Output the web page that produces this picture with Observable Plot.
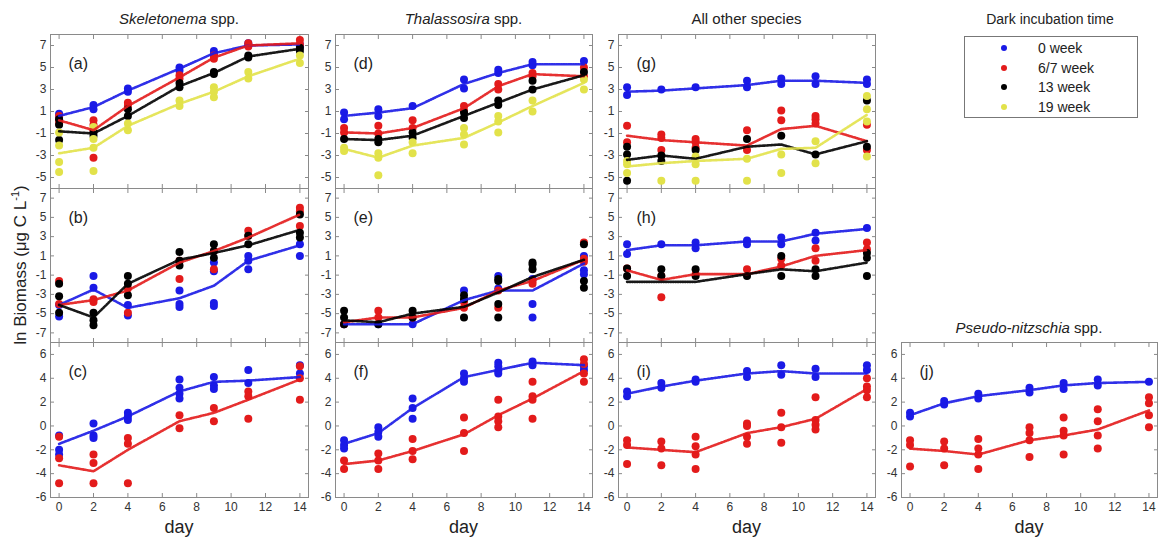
<!DOCTYPE html>
<html>
<head>
<meta charset="utf-8">
<script src="https://cdn.jsdelivr.net/npm/d3@7"></script>
<script src="https://cdn.jsdelivr.net/npm/@observablehq/plot@0.6"></script>
<style>
  html, body { margin: 0; padding: 0; background: #fff; }
  #wrap { position: relative; width: 1162px; height: 543px; font-family: "Liberation Sans", Arial, sans-serif; color: #222; overflow: hidden; }
  .abs { position: absolute; }
  .title { font-size: 15px; white-space: nowrap; transform: translate(-50%, -50%); }
  .day { font-size: 18px; transform: translate(-50%, -50%); }
  .ylab { font-size: 17px; white-space: nowrap; transform: translate(-50%, -50%) rotate(-90deg); }
  .legbox { border: 1px solid #777; box-sizing: border-box; }
  .legtxt { font-size: 14px; white-space: nowrap; transform: translateY(-50%); }
  .legdot { width: 6px; height: 6px; border-radius: 50%; transform: translate(-50%, -50%); }
</style>
</head>
<body>
<div id="wrap"></div>
<script>
// ---------------- data ----------------
const days = [0, 2, 4, 7, 9, 11, 14];
const seriesNames = ["0 week", "6/7 week", "13 week", "19 week"];
const seriesColors = ["#1a1ae6", "#e31b1b", "#000000", "#e2e24a"];
const columnTitles = ["Skeletonema", "Thalassosira", "All other species", "Pseudo-nitzschia"];
const panelLabels = ["(a)", "(b)", "(c)", "(d)", "(e)", "(f)", "(g)", "(h)", "(i)", "(j)"];
const xTicks = [0, 2, 4, 6, 8, 10, 12, 14];
const yTicksTop = [-5, -3, -1, 1, 3, 5, 7];
const yTicksMid = [-7, -5, -3, -1, 1, 3, 5, 7];
const yTicksBot = [-6, -4, -2, 0, 2, 4, 6];

// (a) Skeletonema, total
const a_w0_mean = [0.6, 1.4, 2.9, 4.9, 6.3, 7.0, 7.1];
const a_w0_pts = [[0.8, 0.5], [1.6, 1.2], [3.1, 2.8], [5.0, 4.7], [6.5, 6.2], [7.2, 7.0], [7.1, 6.9]];
const a_w6_mean = [0.2, -0.7, 1.5, 4.1, 5.9, 7.0, 7.2];
const a_w6_pts = [[0.6, 0.2, -0.1], [0.2, -0.2, -0.7, -3.2], [1.8, 1.5], [4.3, 4.0], [6.1, 5.8], [7.2, 6.9], [7.5, 7.1]];
const a_w13_mean = [-0.8, -1.0, 0.6, 3.3, 4.5, 6.0, 6.7];
const a_w13_pts = [[0.3, -0.2, -1.6], [-0.9, -1.2], [1.2, 0.6], [3.6, 3.2], [4.6, 4.4], [6.1, 5.9], [6.8, 6.5]];
const a_w19_mean = [-2.8, -2.3, -0.3, 1.7, 2.8, 4.2, 5.8];
const a_w19_pts = [[-0.9, -2.1, -3.6, -4.5], [-0.4, -1.5, -2.3, -4.4], [-0.1, -0.7], [2.0, 1.5], [3.2, 2.8, 2.3], [4.6, 4.0], [6.1, 5.4]];

// (b)
const b_w0_mean = [-4.1, -2.5, -4.4, -3.4, -2.1, 0.5, 2.1];
const b_w0_pts = [[-4.1, -5.3], [-1.1, -2.3], [-4.1, -5.2], [-2.6, -4.0, -4.3], [0.3, -0.6, -3.9, -4.2], [1.0, 0.5, -0.4], [2.2, 1.0]];
const b_w6_mean = [-4.1, -3.6, -2.6, 0.3, 1.5, 2.9, 5.3];
const b_w6_pts = [[-1.6, -4.0], [-3.5, -3.8], [-2.4, -4.9], [0.5, -1.4], [1.5, -0.4], [3.6, 3.1], [6.0, 5.6, 4.1]];
const b_w13_mean = [-4.1, -5.4, -1.9, 0.6, 1.3, 2.1, 3.7];
const b_w13_pts = [[-1.9, -3.2, -4.9], [-4.9, -5.7, -6.2], [-1.1, -1.9, -3.1], [1.4, 0.5, 0.0], [2.2, 1.5, 0.8], [3.1, 2.2], [5.3, 3.4, 2.9]];

// (c)
const c_w0_mean = [-1.5, -0.4, 0.8, 2.9, 3.7, 3.8, 4.1];
const c_w0_pts = [[-0.8, -2.0, -2.4], [0.2, -0.8, -1.0], [1.1, 0.8, 0.5], [3.9, 3.2, 2.7, 2.3], [4.1, 3.4, 3.1], [4.7, 3.6], [5.1, 4.4]];
const c_w6_mean = [-3.3, -3.8, -2.0, 0.4, 1.1, 2.2, 3.9];
const c_w6_pts = [[-0.9, -2.7, -4.8], [-2.4, -3.1, -4.8], [-1.0, -1.5, -4.8], [0.9, -0.2], [1.5, 0.4], [2.9, 2.5, 0.6], [5.0, 4.0, 2.2]];

// (d) Thalassosira
const d_w0_mean = [0.6, 0.9, 1.3, 3.5, 4.5, 5.3, 5.3];
const d_w0_pts = [[0.9, 0.3], [1.2, 0.6], [1.5], [3.9, 3.1], [4.8, 4.5], [5.5, 5.2], [5.6]];
const d_w6_mean = [-0.9, -1.0, -0.5, 1.3, 3.3, 4.4, 4.2];
const d_w6_pts = [[-0.5, -0.9], [-0.3, -1.0], [0.2, -0.5], [1.5, 1.1], [3.5, 3.0], [4.5, 4.2], [5.0, 4.2]];
const d_w13_mean = [-1.5, -1.6, -1.2, 0.6, 1.8, 3.0, 4.3];
const d_w13_pts = [[-1.5], [-1.5, -1.8], [-0.9, -1.4], [0.9, 0.4], [2.0, 1.6], [3.8, 3.0], [4.6]];
const d_w19_mean = [-2.4, -3.2, -2.1, -1.4, 0.0, 1.5, 3.6];
const d_w19_pts = [[-2.3, -2.6], [-2.8, -3.2, -4.8], [-1.8, -2.8], [-0.5, -1.1, -2.0], [0.6, 0.1, -0.9], [2.0, 1.0], [3.9, 3.0]];

// (e)
const e_w0_mean = [-6.1, -6.1, -6.1, -3.6, -2.6, -2.6, 0.2];
const e_w0_pts = [[-6.1], [-6.1], [-6.1], [-2.6, -3.6], [-1.1, -2.4], [-1.4, -4.0, -5.4], [1.0, -0.5, -0.9]];
const e_w6_mean = [-5.9, -5.4, -5.4, -4.4, -2.6, -1.6, 0.6];
const e_w6_pts = [[-6.1], [-4.7, -5.4], [-5.4], [-3.8, -4.4], [-2.6, -4.4], [-1.6, -1.9], [2.4, 0.7, 0.4]];
const e_w13_mean = [-5.7, -5.9, -5.0, -4.3, -2.8, -1.2, 0.6];
const e_w13_pts = [[-4.7, -5.4, -6.1], [-6.1], [-4.7, -5.4], [-3.1, -3.5, -5.4], [-1.4, -1.6, -4.0, -5.4], [0.3, 0.1, -0.4], [2.2, -1.6, -2.3]];

// (f)
const f_w0_mean = [-1.5, -0.6, 1.5, 4.1, 4.7, 5.3, 5.1];
const f_w0_pts = [[-1.2, -1.6, -1.9], [-0.1, -0.5, -0.9], [2.3, 1.5, 0.6], [4.4, 4.0, 3.7], [5.3, 5.0, 4.6, 4.4], [5.4, 5.1], [5.0, 4.7]];
const f_w6_mean = [-3.2, -2.9, -2.1, -0.7, 0.9, 2.3, 4.6];
const f_w6_pts = [[-2.9, -3.6], [-2.3, -2.9, -3.6], [-1.1, -2.1, -2.8], [0.7, -0.6, -2.1], [2.2, 0.8, 0.4, -0.1], [3.7, 2.5, 2.2, 0.6], [5.6, 5.2, 4.4, 3.7]];

// (g) All other species
const g_w0_mean = [2.8, 2.9, 3.1, 3.4, 3.8, 3.8, 3.6];
const g_w0_pts = [[3.2, 2.5], [3.0], [3.2], [3.8, 3.2], [4.0, 3.5], [4.2, 3.5], [3.9, 3.5]];
const g_w6_mean = [-1.2, -1.6, -1.8, -2.1, -0.6, -0.3, -1.7];
const g_w6_pts = [[-0.3, -1.8], [-1.1, -1.4, -2.5], [-1.5, -1.8, -2.3], [-0.7, -2.5], [1.1, 0.2], [0.6, 0.3, -0.1], [-0.2, -2.5]];
const g_w13_mean = [-3.4, -3.0, -3.3, -2.2, -2.0, -2.9, -1.7];
const g_w13_pts = [[-2.2, -2.9, -5.3], [-3.0, -3.5], [-2.5], [-1.5], [-1.2], [-2.9], [2.0, -2.2]];
const g_w19_mean = [-4.0, -3.7, -3.5, -3.3, -2.4, -2.3, 0.7];
const g_w19_pts = [[-3.5, -3.8, -4.6], [-5.3], [-3.1, -3.8, -5.3], [-3.3, -5.3], [-2.9, -4.6], [-1.7, -3.7], [2.4, 1.2, 0.1, -3.1]];

// (h)
const h_w0_mean = [1.6, 2.1, 2.1, 2.5, 2.5, 3.3, 3.8];
const h_w0_pts = [[2.2, 1.2], [2.2], [2.4, 1.8], [2.6, 2.2], [2.9, 2.2], [3.4, 2.6], [3.9]];
const h_w6_mean = [-0.5, -1.5, -0.9, -0.9, -0.1, 1.0, 1.6];
const h_w6_pts = [[-0.3], [-1.1, -3.3], [-0.9], [-0.4], [0.7, 0.0], [1.8, 0.5], [2.4, 1.7]];
const h_w13_mean = [-1.7, -1.7, -1.7, -0.9, -0.4, -0.6, 0.3];
const h_w13_pts = [[-0.3, -1.1], [-0.4, -1.1], [-0.4, -1.1], [-1.1], [1.0, -1.1], [-0.4, -1.1], [1.3, 0.8, -1.1]];

// (i)
const i_w0_mean = [2.7, 3.3, 3.8, 4.4, 4.6, 4.4, 4.4];
const i_w0_pts = [[2.9, 2.5], [3.6, 3.2], [3.9, 3.7], [4.6, 4.1], [5.1, 4.3], [4.8, 4.1], [5.1, 4.7]];
const i_w6_mean = [-1.8, -2.0, -2.2, -0.6, -0.1, 0.6, 3.1];
const i_w6_pts = [[-1.2, -1.6, -3.2], [-1.3, -1.9, -3.3], [-0.9, -1.7, -2.4, -3.6], [0.2, 0.0, -0.9, -1.5], [1.1, -0.1, -1.4], [2.4, 0.5, 0.1, -0.3], [4.0, 3.3, 3.0, 2.4]];

// (j) Pseudo-nitzschia
const j_w0_mean = [0.9, 1.9, 2.5, 3.0, 3.4, 3.6, 3.7];
const j_w0_pts = [[1.1, 0.8], [2.1, 1.8], [2.7, 2.3], [3.2, 2.8], [3.6, 3.1], [3.9, 3.4], [3.7]];
const j_w6_mean = [-1.9, -2.1, -2.4, -1.2, -0.8, -0.3, 1.3];
const j_w6_pts = [[-1.2, -1.6, -3.4], [-1.3, -1.9, -3.3], [-1.1, -1.9, -2.4, -3.6], [-0.1, -0.6, -1.2, -2.6], [0.7, -0.4, -0.8, -2.4], [1.4, 0.4, -0.8, -1.9], [2.4, 1.9, 0.9, -0.1]];

// ---------------- layout ----------------
const colLeft = [50, 335, 618, 901];
const colWidth = [258, 257, 257, 256];
const rowTop = [34, 188, 342];
const rowHeight = [154, 154, 155];
const rowDomain = [[-6, 8], [-8, 8], [-6, 7]];
const rowTicks = [yTicksTop, yTicksMid, yTicksBot];

const panels = [
  {col: 0, row: 0, s: [[a_w0_mean, a_w0_pts], [a_w6_mean, a_w6_pts], [a_w13_mean, a_w13_pts], [a_w19_mean, a_w19_pts]]},
  {col: 0, row: 1, s: [[b_w0_mean, b_w0_pts], [b_w6_mean, b_w6_pts], [b_w13_mean, b_w13_pts]]},
  {col: 0, row: 2, s: [[c_w0_mean, c_w0_pts], [c_w6_mean, c_w6_pts]]},
  {col: 1, row: 0, s: [[d_w0_mean, d_w0_pts], [d_w6_mean, d_w6_pts], [d_w13_mean, d_w13_pts], [d_w19_mean, d_w19_pts]]},
  {col: 1, row: 1, s: [[e_w0_mean, e_w0_pts], [e_w6_mean, e_w6_pts], [e_w13_mean, e_w13_pts]]},
  {col: 1, row: 2, s: [[f_w0_mean, f_w0_pts], [f_w6_mean, f_w6_pts]]},
  {col: 2, row: 0, s: [[g_w0_mean, g_w0_pts], [g_w6_mean, g_w6_pts], [g_w13_mean, g_w13_pts], [g_w19_mean, g_w19_pts]]},
  {col: 2, row: 1, s: [[h_w0_mean, h_w0_pts], [h_w6_mean, h_w6_pts], [h_w13_mean, h_w13_pts]]},
  {col: 2, row: 2, s: [[i_w0_mean, i_w0_pts], [i_w6_mean, i_w6_pts]]},
  {col: 3, row: 2, s: [[j_w0_mean, j_w0_pts], [j_w6_mean, j_w6_pts]]}
];

const wrap = document.getElementById("wrap");
const ML = 30, MR = 6, MT = 6, MB = 24;

function addDiv(cls, x, y, html, extra) {
  const d = document.createElement("div");
  d.className = "abs " + cls;
  d.style.left = x + "px";
  d.style.top = y + "px";
  d.innerHTML = html;
  if (extra) Object.assign(d.style, extra);
  wrap.appendChild(d);
  return d;
}

panels.forEach((p, idx) => {
  const means = [], pts = [];
  p.s.forEach(([mean, ptsArr], k) => {
    days.forEach((day, i) => {
      means.push({day, v: mean[i], s: k});
      ptsArr[i].forEach(v => pts.push({day, v, s: k}));
    });
  });
  const showX = p.row === 2;
  const chart = Plot.plot({
    width: colWidth[p.col] + ML + MR,
    height: rowHeight[p.row] + MT + MB,
    marginLeft: ML, marginRight: MR, marginTop: MT, marginBottom: MB,
    x: {domain: [-0.5, 14.5]},
    y: {domain: rowDomain[p.row]},
    color: {type: "identity"},
    style: {fontFamily: "'Liberation Sans', Arial, sans-serif", fontSize: "12px", color: "#333", background: "transparent", overflow: "visible"},
    marks: [
      Plot.frame({stroke: "#8a8a8a"}),
      Plot.axisY(rowTicks[p.row], {anchor: "left", tickSize: -4, tickPadding: 8, stroke: "#8a8a8a", fill: "#333", tickFormat: d => String(d), label: null}),
      Plot.axisY(rowTicks[p.row], {anchor: "right", tickSize: -4, stroke: "#8a8a8a", tickFormat: () => "", label: null}),
      Plot.axisX(xTicks, {anchor: "bottom", tickSize: -4, tickPadding: 9, stroke: "#8a8a8a", fill: "#333", tickFormat: showX ? (d => String(d)) : (() => ""), label: null}),
      Plot.axisX(xTicks, {anchor: "top", tickSize: -4, stroke: "#8a8a8a", tickFormat: () => "", label: null}),
      Plot.dot(pts, {x: "day", y: "v", r: 4, fill: d => seriesColors[d.s], stroke: null}),
      Plot.line(means, {x: "day", y: "v", z: "s", stroke: d => seriesColors[d.s], strokeWidth: 2.6, strokeDasharray: "1.2 1.2", strokeOpacity: 0.9}),
      Plot.text([panelLabels[idx]], {frameAnchor: "top-left", dx: 18, dy: 23, text: d => d, fontSize: 16, fill: "#222", textAnchor: "start"})
    ]
  });
  chart.style.position = "absolute";
  chart.style.left = (colLeft[p.col] - ML) + "px";
  chart.style.top = (rowTop[p.row] - MT) + "px";
  wrap.appendChild(chart);
});

// column titles
addDiv("title", colLeft[0] + colWidth[0] / 2, 18, `<i>${columnTitles[0]}</i> spp.`);
addDiv("title", colLeft[1] + colWidth[1] / 2, 18, `<i>${columnTitles[1]}</i> spp.`);
addDiv("title", colLeft[2] + colWidth[2] / 2, 18, columnTitles[2]);
addDiv("title", colLeft[3] + colWidth[3] / 2, 327, `<i>${columnTitles[3]}</i> spp.`);

// day labels
[0, 1, 2, 3].forEach(c => addDiv("day", colLeft[c] + colWidth[c] / 2, 527, "day"));

// y label
addDiv("ylab", 20, 265, "ln Biomass (μg C L<sup style='font-size:11px'>-1</sup>)");

// legend
addDiv("title", 1050, 19, "Dark incubation time", {fontSize: "14px"});
addDiv("legbox", 964, 36, "", {width: "174px", height: "82px"});
const legY = [48, 68, 87, 107];
seriesNames.forEach((name, k) => {
  addDiv("legdot", 1004, legY[k], "", {background: seriesColors[k]});
  addDiv("legtxt", 1038, legY[k], name);
});
</script>
</body>
</html>
